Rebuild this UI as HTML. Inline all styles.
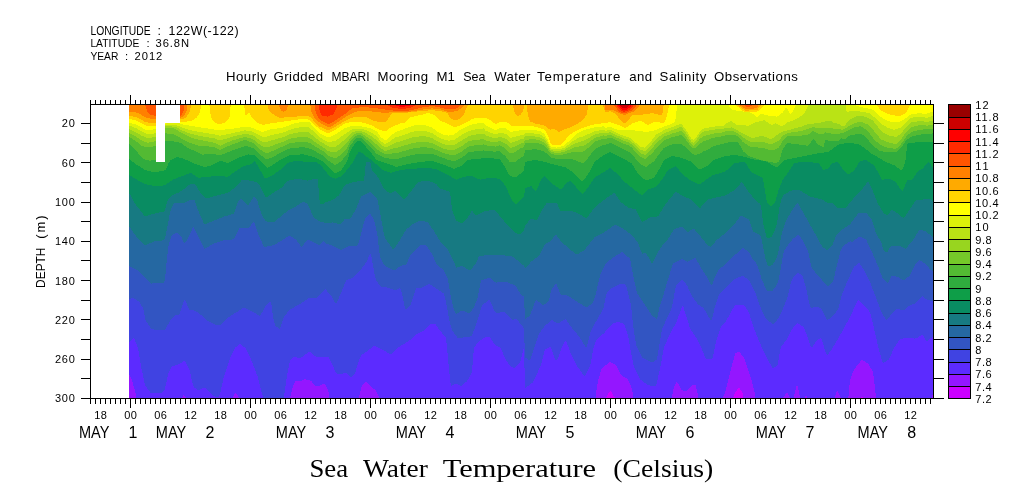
<!DOCTYPE html><html><head><meta charset="utf-8"><title>Sea Water Temperature</title>
<style>html,body{margin:0;padding:0;background:#fff}svg{display:block;will-change:transform;transform:translateZ(0)}text{font-family:"Liberation Sans",sans-serif;fill:#000}.t{font-family:"Liberation Serif",serif}</style></head><body>
<svg width="1009" height="504" viewBox="0 0 1009 504">
<rect width="1009" height="504" fill="#fff"/>
<defs><clipPath id="cp"><rect x="129" y="105" width="805" height="293"/></clipPath></defs>
<g clip-path="url(#cp)" shape-rendering="crispEdges">
<rect x="129" y="105" width="805" height="293" fill="#990000"/>
<rect x="129" y="105" width="805" height="293" fill="#cc0000"/>
<path fill="#ff0000" d="M129,402 L129,100 L619,100 L620,105.1 L623,108.3 L627,107.8 L628,107 L629,105 L630,100 L934,100 L934,402Z"/>
<path fill="#ff2a00" d="M129,402 L129,100 L392,100 L393,104.5 L401,107.1 L409,106 L411,104.6 L412,100 L617,100 L618,104.9 L621,108.7 L622,109.6 L626,110 L630,107.5 L631,106.2 L632,100 L934,100 L934,402Z"/>
<path fill="#ff5500" d="M129,402 L129,100 L318,100 L320,112.7 L322,115.5 L323,116.1 L328,116.6 L333,114.3 L334,112.8 L336,109.4 L337,106.1 L338,100 L385,100 L386,104.6 L392,107.6 L401,108.9 L409,108.3 L415,105.4 L416,100 L615,100 L616,104.6 L620,110.1 L621,110.9 L624,111.7 L625,111.7 L631,109 L634,104.5 L635,100 L934,100 L934,402Z"/>
<path fill="#ff8000" d="M129,402 L129,100 L144,100 L147,111.2 L150,114.3 L151,115 L157,116.1 L180,116.1 L181,115.3 L182,114.1 L184,109.9 L185,100 L314,100 L315,108.8 L316,113.4 L318,117.4 L319,119.2 L328,124.2 L329,124.1 L333,122.1 L346,113.2 L352,108.4 L353,108.2 L364,107 L377,108.3 L389,110.1 L401,111.3 L412,110.2 L421,107.7 L432,106 L439,107.2 L448,109.4 L449,109.5 L455,109 L456,108.6 L460,106.1 L461,104.9 L462,100 L613,100 L614,105.1 L618,110.4 L619,111.4 L624,113.7 L632,110.5 L636,106 L637,104.5 L638,100 L742,100 L743,104.4 L747,107.3 L748,107.5 L752,105.5 L753,100 L934,100 L934,402Z"/>
<path fill="#ffaa00" d="M129,402 L129,111.9 L136,112.4 L140,113.9 L145,117.1 L151,118.8 L157,119 L180,117.9 L184,115.9 L186,112.3 L187,109.7 L188,100 L278,100 L279,105.9 L280,108.4 L281,110.3 L283,111.5 L284,111.7 L286,110.5 L287,109 L288,105.7 L289,100 L310,100 L311,111 L312,113.5 L315,118.6 L321,123.7 L329,127.2 L330,127.1 L335,124.1 L350,114.2 L357,111.3 L365,110.7 L386,113 L391,112 L401,112.5 L412,111.4 L422,109.6 L432,108.4 L441,109.5 L448,111.8 L456,111.4 L457,111.1 L462,107.6 L463,106.5 L464,104.9 L465,100 L604,100 L605,110.1 L611,109.5 L616,111.4 L620,113.4 L624,114.8 L625,114.9 L631,112.4 L634,111.4 L635,110.5 L638,107.5 L639,105.5 L640,100 L738,100 L739,104.8 L746,109.3 L747,109.5 L756,108.3 L759,104.9 L760,100 L934,100 L934,402Z"/>
<path fill="#ffd400" d="M129,402 L129,116.1 L136,116.8 L140,118.8 L145,121.9 L146,122.2 L151,123.2 L156,122.6 L180,119.6 L185,118.1 L186,117.4 L189,113.2 L190,111.1 L191,104.7 L192,100 L267,100 L268,107.8 L269,110.9 L275,115.6 L279,117.6 L280,117.8 L302,116.1 L310,116.6 L311,117.4 L314,121.4 L319,126.3 L328,130.2 L329,130 L335,127 L344,121.3 L351,117.8 L358,116.7 L365,116.7 L372,120.2 L379,122 L386,121.5 L387,120.6 L392,113.1 L401,113.3 L422,111 L432,110.2 L441,111.3 L447,112.9 L448,113.8 L449,116.5 L450,118.1 L454,120.3 L455,120.3 L460,119.1 L463,115.4 L464,113.8 L466,108.8 L468,105.2 L469,100 L512,100 L513,104.4 L514,110.8 L515,113.2 L517,116.2 L518,116.1 L520,115.2 L521,114.4 L523,110.8 L524,106.8 L525,100 L526,100 L527,110.2 L529,118.9 L530,121.6 L536,123.7 L544,125.5 L545,126 L550,129.7 L554,128.6 L559,132 L564,129.6 L571,127.2 L577,124.2 L578,123.7 L584,118.7 L587,113.7 L589,100 L602,100 L603,104.7 L605,111.9 L611,111.3 L616,113.9 L619,118.6 L620,119.7 L624,123.2 L625,123.5 L629,119.5 L632,114.9 L641,114.8 L652,113.2 L653,113.2 L661,115.4 L663,112.1 L664,100 L736,100 L737,104.8 L745,110.5 L746,110.7 L757,110.1 L762,104.8 L763,100 L934,100 L934,402Z"/>
<path fill="#ffff00" d="M129,402 L129,119 L136,120.4 L140,122.4 L145,125.4 L151,126.4 L156,125.6 L159,122.7 L160,122.1 L184,122 L191,120.9 L192,120.6 L196,118.1 L197,117 L200,112.8 L202,100 L209,100 L210,112.7 L212,119.2 L215,122.7 L216,123.3 L220,124.3 L225,122.6 L229,118 L230,115.1 L231,100 L244,100 L245,115.5 L247,114.5 L249,112.7 L250,113.9 L252,117.6 L257,122.7 L263,125 L271,123.3 L301,119.1 L309,119.6 L320,129.8 L328,133.2 L329,133 L335,130 L344,123.8 L352,121.5 L353,121.5 L359,122 L365,123.2 L372,125.5 L379,129.6 L385,131.5 L386,131 L390,128 L395,125.5 L401,123.2 L405,122.7 L406,121.9 L409,117.9 L415,116.1 L422,114.9 L427,113.1 L432,113.9 L436,116.4 L441,121.2 L448,123.7 L454,127.2 L455,127.2 L460,125.7 L466,122.7 L472,119.1 L477,117.9 L484,118.4 L485,117.9 L490,119.8 L495,123.8 L496,124.2 L500,121.7 L501,121.5 L506,122 L507,122.4 L512,125.9 L513,126.2 L521,126.2 L530,125.6 L531,125.8 L537,127.3 L544,129.6 L545,130.6 L548,135.6 L550,141.9 L551,143.5 L552,144.6 L561,144.6 L565,140.2 L568,136.2 L569,135.3 L575,131.3 L583,127.8 L590,125.5 L597,123.8 L605,123.2 L610,122.1 L617,124.4 L625,127.9 L626,127.5 L632,123.5 L640,121 L641,121 L648,124.9 L653,122.5 L657,121.5 L658,121.7 L663,123.7 L664,122.5 L666,118.5 L667,115.1 L668,111.1 L670,100 L734,100 L735,104.6 L744,111.9 L745,111.9 L757,111.9 L764,105.6 L765,100 L876,100 L877,105.4 L881,110.7 L889,114.2 L899,116.3 L906,113 L910,104.6 L911,100 L934,100 L934,402Z"/>
<path fill="#ddf10a" d="M129,402 L129,122.6 L136,124.5 L140,126.5 L145,129.6 L150,130.3 L151,130.2 L156,128.6 L164,124.8 L167,122.9 L178,122.9 L183,124.5 L213,129.4 L220,130 L232,128.8 L245,126.8 L250,127.3 L251,127.4 L263,132.1 L269,129.7 L284,127.4 L293,123.7 L301,122 L309,122 L310,122.8 L314,127.3 L320,133.3 L328,137.3 L329,137.2 L335,134.7 L344,128.5 L352,125.6 L353,125.7 L365,126.8 L371,128.6 L377,131.7 L380,136.2 L381,137.3 L385,140.3 L386,139.9 L390,136.9 L395,132.1 L401,130.2 L413,125.6 L419,125 L425,125.2 L432,127.6 L436,130.6 L442,134.3 L448,135.6 L454,134.6 L461,129.4 L466,126.9 L472,124.5 L478,123.2 L484,122.7 L485,125 L495,130 L496,130.2 L500,128.2 L501,128 L506,128.5 L507,129.1 L510,131.6 L511,132.1 L516,130.9 L525,129.8 L533,129.8 L540,131.1 L544,133.6 L545,134.8 L548,140.3 L550,145.2 L551,146.5 L556,147.5 L557,147.5 L563,146 L564,145.5 L568,142 L574,136 L580,131.7 L587,129.3 L594,127.5 L604,126.3 L605,128 L610,126.9 L617,129.5 L622,130.2 L623,130.3 L629,129.8 L646,131.9 L653,131 L658,128.9 L671,124.1 L675,121.6 L676,116.9 L677,104.7 L678,100 L727,100 L728,104.9 L732,109.4 L739,111.2 L743,111.5 L744,111.9 L749,112 L755,115.2 L757,117.7 L758,116.9 L760,114.5 L761,113.8 L770,116 L777,116.6 L778,116.2 L783,112.2 L786,107.6 L787,108.3 L790,113.5 L791,113.6 L794,109.6 L796,105.2 L797,100 L852,100 L853,104.5 L861,107.2 L872,109.4 L873,109.9 L878,114.7 L884,119.2 L885,119.8 L892,122 L899,121.9 L905,118.9 L911,114.2 L920,113.1 L926,114.2 L931,111.9 L934,111.3 L934,402Z"/>
<path fill="#bae315" d="M129,402 L129,125.6 L136,128.1 L142,131.7 L147,133.9 L148,134.1 L151,133.9 L157,133 L158,131.6 L165,125.5 L167,124.6 L175,125 L178,125.7 L182,127.6 L190,130 L197,131.5 L215,134.5 L220,135.8 L245,130.4 L246,130.5 L251,131.3 L254,132.5 L263,137.2 L267,136.5 L269,135.7 L284,132.3 L293,128.7 L301,127.2 L309,127.4 L310,128.1 L320,137.6 L328,142 L329,142.1 L335,141 L336,140.4 L341,136.9 L344,134.5 L347,132.9 L350,130.4 L352,129.3 L356,128.5 L359,128.6 L361,128.7 L365,129.8 L371,132.5 L377,136.2 L380,140.2 L381,141.2 L385,143.9 L386,143.7 L390,141.4 L395,137.6 L401,135.9 L413,131.6 L419,130.9 L425,131 L432,133 L436,135.7 L442,139.1 L448,140.6 L449,140.6 L454,140.1 L460,135.8 L466,132.5 L468,131.5 L472,130.1 L478,128.9 L484,128.4 L485,130.3 L495,134.4 L496,134.5 L500,132.8 L501,132.8 L506,134 L510,137.4 L511,137.7 L524,134.5 L525,133.5 L533,133.3 L540,134.5 L544,136.8 L545,137.9 L548,142.9 L550,147.3 L551,148.5 L556,149.6 L563,148.3 L564,147.9 L568,145.1 L574,140.3 L580,137.2 L583,136.4 L594,131.6 L604,129.6 L605,131 L609,129.9 L611,130 L623,135.7 L629,137.1 L641,147.1 L645,147.6 L646,147 L652,140 L656,134.8 L657,134.1 L665,129.6 L681,123.9 L682,124.8 L686,129.8 L691,138.3 L693,139.9 L694,140.1 L697,136.3 L700,131.3 L701,130.4 L704,128.5 L712,126.8 L724,125.7 L725,123.8 L731,120.9 L737,125 L748,125.6 L749,125.5 L755,122.6 L764,120.3 L765,120.7 L771,124.7 L772,124.8 L776,123.3 L782,126.7 L787,122.6 L796,119.2 L803,114.7 L804,113.5 L808,106.5 L809,100 L845,100 L846,109.2 L847,111.8 L855,110.7 L870,113.1 L881,123.8 L887,127.4 L894,129.7 L901,127.4 L910,118.6 L911,117.8 L920,116.7 L927,117.8 L934,115.5 L934,402Z"/>
<path fill="#98d51f" d="M129,402 L129,129.2 L136,132.3 L142,135.8 L147,137.9 L148,138.1 L156,136.8 L157,136.2 L165,126.5 L167,126.1 L175,126.7 L178,128.1 L182,130.4 L190,133.5 L197,135.4 L215,138.5 L220,140.6 L232,136.8 L245,133.7 L251,134.9 L254,136.1 L260,140.3 L263,142 L266,142.1 L267,142 L269,141.2 L284,136.8 L290,134.2 L293,133.4 L301,132.1 L304,132.1 L309,132.5 L320,141.5 L324,143.7 L328,146.4 L330,146.8 L335,146.8 L336,146.3 L341,142.9 L344,140.1 L347,137.9 L350,134.3 L352,132.6 L357,130.7 L361,131 L365,132.6 L371,136.1 L377,140.5 L381,144.8 L385,147.4 L386,147.2 L390,145.5 L395,142.7 L397,142.4 L401,141.2 L412,137.4 L419,136.5 L425,136.4 L431,137.7 L432,138 L437,141 L442,143.6 L448,145.2 L449,145.3 L454,145.2 L460,141.3 L462,140.3 L468,136.6 L472,135.3 L478,134.2 L484,133.7 L485,135.3 L490,137 L495,138.4 L496,138.5 L500,136.9 L501,137 L506,138.9 L510,142.4 L511,142.7 L515,141.7 L520,139.5 L524,138.4 L525,136.5 L533,136.2 L540,137.4 L544,139.5 L545,140.5 L548,145 L550,149.1 L551,150.1 L556,151.2 L563,150.3 L564,149.9 L574,143.8 L580,141.7 L583,141.2 L595,134.5 L604,132.4 L605,133.5 L610,132.2 L611,132.4 L613,133.3 L623,138.2 L629,139.7 L633,142.9 L640,149.5 L641,150.2 L645,151 L646,150.6 L652,144.1 L656,139 L662,134.6 L665,132.9 L681,126.9 L682,127.8 L686,132.8 L691,141.3 L693,142.9 L694,143.1 L697,139.3 L700,134.3 L701,133.4 L704,131.5 L712,129.8 L724,128.7 L725,128 L732,127.4 L741,132.4 L752,137.9 L753,137.9 L762,135.8 L771,139.1 L772,138.8 L778,134.2 L784,131.2 L801,126.8 L808,123.9 L818,123.2 L825,121.4 L832,121.4 L833,122.8 L839,123.8 L841,125.6 L845,125.6 L846,123.5 L847,122.2 L852,118.2 L858,115.6 L859,115.6 L865,116.6 L872,119.9 L873,120.7 L882,132 L889,135.6 L896,136.8 L897,136.5 L901,133.5 L906,127.3 L911,122.6 L920,120.9 L927,122 L934,120.2 L934,402Z"/>
<path fill="#75c829" d="M129,402 L129,132.7 L136,136.5 L142,140.6 L147,142.6 L148,142.8 L156,141.1 L165,127.6 L166,127.5 L175,128.6 L182,133.2 L190,137.1 L197,139.4 L215,142.8 L216,143.2 L220,145.7 L221,145.5 L226,143 L232,140.5 L245,136.9 L246,137 L247,137.6 L251,138.5 L254,139.8 L260,144.8 L263,146.8 L267,147.6 L284,141.4 L290,138.7 L293,138 L301,137 L304,137 L309,137.6 L320,145.5 L324,147.8 L328,150.9 L330,151.6 L335,152.6 L341,148.8 L347,143 L350,138.1 L351,137 L354,134.6 L357,132.9 L361,133.2 L365,135.5 L371,139.7 L377,144.8 L381,148.5 L385,150.8 L386,150.7 L390,149.7 L394,148.2 L397,147.7 L400,146.9 L413,142.8 L419,142.1 L424,141.8 L432,142.9 L442,148.1 L448,149.8 L454,150.3 L462,145.9 L468,141.6 L472,140.5 L476,139.9 L484,139.1 L485,140.3 L490,141.6 L495,142.4 L496,142.4 L499,141.2 L500,141.1 L506,143.8 L509,146.8 L510,147.6 L511,147.8 L515,146.7 L520,143.9 L524,142.5 L525,139.7 L533,139.3 L535,139.4 L540,140.4 L544,142.3 L545,143.2 L548,147.3 L550,150.9 L551,151.9 L556,153 L557,153 L563,152.3 L564,152.1 L574,147.5 L580,146.4 L582,146.5 L583,146.3 L589,142.4 L594,138.4 L595,137.9 L604,135.2 L605,136.2 L610,134.7 L611,134.9 L613,135.8 L623,140.7 L629,142.5 L632,144.8 L640,152.8 L641,153.5 L645,154.7 L646,154.4 L652,148.5 L657,142.5 L664,136.7 L672,133.6 L681,130.8 L682,131.6 L686,136.2 L691,143.9 L693,145.5 L694,145.8 L697,142.9 L700,138.8 L704,136.1 L713,133.6 L724,132.2 L725,131.5 L732,130.8 L738,133.3 L743,137.6 L749,141 L752,142.4 L753,142.5 L762,141.5 L771,144.5 L772,144.3 L779,140.3 L783,135.7 L787,133.2 L801,131 L808,129 L813,127.1 L819,128.1 L825,127.7 L832,128.2 L833,128.5 L843,129.7 L849,126.1 L856,122.6 L862,122.1 L869,125 L881,139.3 L889,142.7 L896,144 L897,143.5 L901,139.5 L906,132.1 L911,127.3 L920,125.1 L927,125.6 L934,124.4 L934,402Z"/>
<path fill="#53ba33" d="M129,402 L129,136.9 L136,141.3 L142,145.9 L147,147.4 L148,147.5 L156,145.9 L165,133.5 L166,133.4 L172,133.9 L173,134.1 L178,136.6 L185,140.7 L192,143.6 L199,145.8 L208,146.4 L215,147.5 L220,149.9 L221,149.6 L226,147.1 L232,144.7 L245,139.8 L246,139.8 L247,141.2 L248,141.2 L251,142.2 L254,143.5 L260,149.3 L262,150.8 L263,151.5 L267,153.2 L273,150.8 L290,143.2 L293,142.7 L301,141.8 L304,141.8 L309,142.6 L310,143.1 L324,151.8 L328,155.3 L330,156.4 L335,158.5 L341,154.8 L347,148.1 L350,141.9 L351,140.6 L354,137.4 L357,135.2 L361,135.4 L365,138.3 L371,143.4 L376,148.4 L381,152.1 L385,154.2 L390,153.9 L394,153.1 L397,153 L413,148.5 L420,147.5 L425,147.3 L432,147.9 L442,152.5 L448,154.4 L454,155.5 L462,151.4 L468,146.7 L472,145.8 L476,145.2 L484,144.4 L485,145.2 L490,146.2 L495,146.5 L496,146.5 L499,145.4 L500,145.3 L506,149 L509,152.3 L510,153.1 L511,153.2 L515,152.1 L520,148.7 L524,147 L525,143.3 L533,142.6 L535,142.7 L540,143.6 L544,145.4 L545,146.2 L548,149.8 L550,152.9 L551,153.8 L556,154.9 L563,154.6 L574,151.6 L580,151.7 L582,152.1 L583,151.8 L588,148.1 L594,142.3 L595,141.7 L603,138.7 L604,138.4 L605,139.1 L610,137.5 L612,138.1 L623,143.5 L629,145.6 L632,147.8 L638,154.6 L640,156.4 L641,157.2 L645,158.7 L646,158.6 L653,152.3 L657,147.3 L664,140.4 L672,137.2 L681,135.1 L682,135.8 L686,139.9 L691,146.7 L693,148.3 L694,148.7 L697,146.7 L701,142.9 L704,141.1 L707,140.2 L712,138.2 L714,137.6 L724,136 L725,135.3 L732,134.5 L738,136.1 L743,142.1 L749,146 L752,147.2 L762,147.7 L771,150.4 L772,150.3 L775,149.4 L779,147.5 L782,141.6 L783,140.2 L787,136.5 L801,135.6 L808,134.6 L813,131 L819,133.8 L824,134.5 L825,132.3 L828,133.1 L837,134.4 L845,132.2 L854,127.3 L860,126.3 L861,126.4 L868,131.2 L874,139.4 L881,145.3 L889,148.1 L896,148.8 L897,148.2 L901,144.2 L906,136.9 L911,132.1 L920,129.8 L934,128.6 L934,402Z"/>
<path fill="#30ac3e" d="M129,402 L129,144 L134,148.3 L140,155.4 L145,159.9 L150,160.7 L156,159.6 L165,140.7 L166,140.5 L173,141.2 L181,142.9 L187,147.7 L194,150.6 L202,154.6 L203,154.7 L211,153.6 L220,155.3 L235,149.5 L241,147.4 L245,146.3 L248,146.5 L254,148.3 L260,154.4 L262,156.1 L267,159.6 L273,156.9 L282,152 L290,148.3 L301,147.3 L304,147.3 L310,148.7 L314,150.6 L321,154.5 L324,156.4 L329,161.1 L335,165.1 L341,161.5 L346,155.3 L347,153.9 L350,146.2 L351,144.6 L354,140.7 L357,137.8 L361,137.9 L365,141.5 L371,147.5 L376,153.2 L380,155.7 L385,158 L390,158.6 L397,159 L408,155.9 L413,154.8 L421,153.7 L425,153.5 L432,153.6 L442,157.6 L448,159.7 L454,161.3 L462,157.7 L468,152.5 L476,151.2 L484,150.4 L485,150.9 L490,151.4 L496,151.6 L499,151 L500,151.2 L506,156.9 L509,161.2 L510,162.1 L511,162.2 L515,162 L516,161.5 L520,158.3 L524,156 L525,150.3 L535,149.2 L540,150.2 L544,151.6 L545,152.2 L548,154.7 L550,156.9 L551,157.6 L557,158.9 L563,159.1 L565,159 L573,159.5 L580,162.1 L582,163.1 L583,163 L588,158.1 L594,150.1 L595,149.2 L603,145.1 L604,144.8 L605,145 L610,143.1 L611,143.2 L623,149.1 L629,151.8 L632,153.9 L638,161.8 L639,162.8 L641,164.4 L645,166.7 L646,167 L654,161.3 L656,158.3 L664,147.8 L672,144.3 L681,143.7 L686,147.4 L690,151.5 L693,154 L694,154.6 L696,154.6 L699,154.1 L704,151.2 L708,149.6 L712,147 L714,146 L724,143.7 L725,143.1 L728,142.4 L732,141.9 L738,141.7 L743,151.3 L749,156 L761,160.1 L775,163 L779,161.9 L782,151.5 L783,149 L787,142.9 L808,145.8 L809,144.8 L813,138.8 L819,145.2 L823,147.2 L824,146.3 L825,139.3 L827,140.3 L828,140.5 L834,140.5 L839,141 L840,139.3 L841,138.2 L845,139.3 L849,135.7 L860,133.5 L861,133.5 L866,137.5 L873,145.6 L880,151.2 L889,152.3 L896,152.4 L897,151.8 L901,147.8 L906,140.4 L911,136.8 L920,134.6 L934,133.3 L934,402Z"/>
<path fill="#0e9e48" d="M129,402 L129,159 L137,164.9 L145,169.9 L153,172.2 L161,171.3 L165,170.1 L166,169.1 L169,162.4 L170,160.7 L176,157.3 L177,157 L184,158.8 L193,163.1 L204,166.7 L205,166.8 L210,165.9 L220,161 L221,161.1 L228,162.9 L238,158 L248,154.4 L253,154.9 L254,155 L267,167.8 L273,164.8 L282,158.8 L289,155.3 L290,154.9 L303,154.4 L304,154.5 L313,156.8 L321,160.3 L324,162.4 L330,168.9 L335,173.7 L341,170.3 L347,161.4 L350,151.8 L354,144.9 L357,141.1 L360,141.1 L361,141.2 L371,152.8 L376,159.4 L377,160.1 L396,166.7 L397,166.7 L408,164 L420,161.9 L432,160.9 L444,164.9 L454,168.8 L462,165.8 L468,159.9 L476,158.9 L488,158 L499,158.9 L500,159.5 L505,167 L509,174.7 L510,176 L515,177.6 L516,177.3 L524,170.7 L525,161.9 L535,159.9 L545,162 L555,164.9 L565,167.1 L573,172.2 L582,181.2 L583,181.1 L588,174.5 L594,162.8 L595,161.5 L602,156.2 L610,152.1 L611,152.3 L624,158.8 L632,163.8 L638,173.7 L646,180.7 L654,177.7 L660,167.7 L664,159.9 L672,156 L682,158 L691,161.6 L692,162.2 L699,169.2 L700,169.6 L707,166.1 L708,165.4 L713,160.4 L714,159.7 L725,156 L735,155 L745,157 L755,159.9 L765,161 L776,167.1 L777,167.1 L784,160.5 L785,159.8 L820,153 L828,152 L839,144.3 L840,144 L849,142.9 L858,144 L859,144.5 L865,148.5 L873,154.9 L876,156 L886,162 L894,165.1 L901,170.3 L902,170.1 L905,163.3 L906,157.3 L907,144.7 L908,142.8 L920,142.3 L934,142.3 L934,402Z"/>
<path fill="#098c62" d="M129,402 L129,174.8 L137,179.8 L145,184.2 L155,186.1 L164,185.4 L165,185.1 L173,179.6 L190,173 L191,173.1 L198,177.5 L199,177.7 L218,175.8 L228,176.8 L236,170.9 L244,165.9 L252,163.9 L255,161 L265,178.7 L272,175.7 L282,168.6 L288,162.8 L296,160.9 L307,161.9 L315,161.5 L316,161.9 L321,165.6 L322,166.6 L330,176.8 L335,178.7 L341,176.6 L349,167.6 L354,160.4 L357,154.1 L359,151.9 L362,152.7 L363,153.3 L366,156.2 L373,161.3 L382,169.4 L383,170 L390,172.6 L391,172.7 L401,169.8 L425,167.9 L436,168.8 L448,174.8 L456,179.7 L464,176.8 L471,175.9 L472,175.9 L480,179.7 L490,177.8 L499,178.7 L500,179.2 L505,185.1 L506,186.8 L511,198.4 L512,200.1 L516,204.1 L517,204 L524,196.7 L525,188.7 L531,185.8 L535,190.6 L536,191.5 L541,179.6 L544,176.6 L545,176 L551,182.9 L560,189.2 L561,189.3 L567,182.6 L570,181.1 L571,181.2 L582,194 L583,194 L588,187.4 L594,178.4 L595,177.4 L604,172 L610,168.1 L611,168.5 L618,174.6 L624,181.5 L642,195.6 L648,189.7 L656,186.7 L662,179.6 L668,169.8 L675,166.3 L676,166.1 L682,174 L689,179.3 L699,184.4 L700,184.4 L706,179.5 L713,175.1 L714,174.7 L725,171.8 L735,162.9 L745,162 L751,171.9 L762,177.4 L763,179.1 L766,197.1 L767,201.9 L770,205.7 L771,206.3 L774,204.1 L775,202.5 L779,188.8 L783,179.3 L789,171.2 L794,163.7 L795,162.8 L805,161.9 L818,162.9 L819,163.8 L823,169.4 L824,169.7 L828,168.9 L832,163.2 L833,162.8 L838,161.9 L843,169.6 L848,174.7 L854,170.9 L860,160.9 L866,160 L874,165.1 L882,179.7 L890,178.9 L895,181.4 L896,182.2 L900,189 L902,191 L903,190.8 L906,183 L907,181 L908,179.9 L911,180.6 L912,180.1 L917,172.6 L918,171.5 L923,168.2 L928,162.4 L929,162.6 L933,167.4 L934,167.9 L934,402Z"/>
<path fill="#177a82" d="M129,402 L129,192.7 L135,203.7 L145,216.4 L155,213.4 L164,211.6 L165,210.2 L167,202.2 L168,199.3 L172,195.5 L179,192.4 L185,188.3 L190,184.1 L191,183.8 L195,184.6 L196,185.6 L200,192 L201,193.3 L206,198.3 L207,198.4 L216,195.7 L228,192.7 L236,186.8 L242,179.8 L252,180.8 L258,182.8 L262,189.9 L266,197.5 L282,187.4 L287,181.6 L288,180.7 L297,178.9 L298,178.8 L307,180.6 L308,180.6 L315,178.9 L316,178.9 L318,179.6 L319,196.2 L320,203.6 L324,203.6 L325,202.6 L333,199.6 L339,195.4 L345,184.7 L355,181.7 L364,180.8 L366,161.9 L370,161.9 L371,164.8 L372,170.3 L378,177.1 L379,178.6 L384,188.6 L385,190 L390,193.3 L391,193.3 L395,190.9 L396,191.2 L404,199.2 L405,198.8 L412,190.1 L418,182.1 L419,181.7 L428,180.8 L429,181.1 L436,183.7 L440,188.6 L450,191.7 L452,209.6 L456,220.5 L462,223.3 L468,217.2 L471,212 L472,210.7 L475,214.5 L476,215.4 L484,211.5 L493,209.7 L494,209.9 L499,214.9 L508,225.9 L515,232.9 L516,233.4 L520,234.2 L521,233.7 L524,230.5 L525,225.4 L531,218.5 L536,220.1 L537,220.2 L543,208.3 L547,202.6 L556,202.6 L557,203.2 L560,209.9 L561,211.5 L570,210.6 L571,210.7 L579,213.8 L586,218.1 L587,217.8 L594,208.2 L595,207.1 L604,199.9 L614,192.9 L615,193.7 L620,201.2 L621,202.2 L628,207.4 L636,209.5 L642,222.3 L650,217.5 L658,216.4 L666,203.4 L675,192.6 L676,191.8 L684,196.7 L691,199.4 L692,200 L699,207.9 L700,208.1 L707,200.2 L708,199.5 L716,197.5 L725,195.6 L735,189.7 L742,181.8 L747,189.8 L754,198.6 L755,199.7 L760,203.9 L761,206.3 L763,222.4 L766,235.1 L767,238.2 L771,237.4 L772,236.6 L776,227 L777,223.2 L780,204.4 L782,197.7 L783,195.4 L790,191 L791,190.6 L798,189.7 L799,190 L810,196.4 L822,199.5 L828,203.4 L829,203.4 L832,202.6 L833,203.4 L838,208.4 L839,208.4 L846,207.6 L854,197.7 L862,189.7 L868,180.9 L872,188.9 L878,203.8 L884,213.6 L887,215.1 L888,215.1 L891,210.6 L892,209.7 L898,213.7 L903,217.9 L904,217.9 L915,201.4 L916,200.5 L929,198.7 L930,199 L933,201.3 L934,201.6 L934,402Z"/>
<path fill="#2568a2" d="M129,402 L129,226.4 L137,237.4 L145,245.2 L155,241.2 L164,240.3 L165,238.7 L170,212.9 L171,208.9 L174,203.6 L175,202.6 L182,203.5 L183,203.3 L190,199.8 L191,199.6 L194,199.6 L195,201.3 L199,212.8 L204,223.6 L205,224.2 L224,216.6 L234,213.5 L238,201.9 L241,198.7 L248,205.5 L254,196.7 L257,199.8 L262,215.6 L266,221.4 L273,222.3 L274,222.3 L288,210.4 L296,206.3 L303,201.9 L304,201.8 L307,203.3 L308,204.6 L313,216.3 L314,217.8 L319,221.1 L320,221.5 L324,222.2 L325,223.4 L333,222.4 L340,224.2 L341,224.2 L345,218.5 L350,218.5 L351,218.1 L357,206.8 L360,198.6 L361,196.5 L370,192 L371,192.1 L377,198.9 L378,201.8 L384,234.4 L385,238 L393,249.3 L394,249.1 L400,239.9 L406,229.9 L407,228.8 L412,224.7 L420,220.6 L421,220.6 L428,222.4 L434,231.2 L440,241.1 L448,249.9 L454,261.9 L456,267.8 L462,265.9 L469,270.2 L470,270.6 L475,264.7 L476,263.3 L479,255.9 L493,254.9 L511,255.8 L512,256.2 L519,261.5 L524,265.9 L525,268.8 L531,261.8 L539,255.7 L545,243.9 L551,241 L555,235.4 L556,234.7 L561,241.5 L576,254.4 L577,254.6 L584,250.2 L585,249.3 L594,237.9 L595,237 L604,232.5 L615,224.6 L616,224.8 L624,229.3 L632,235.2 L638,243.1 L642,253.7 L646,252.9 L652,263.8 L657,253.8 L661,247.4 L662,245.8 L668,239 L674,229.3 L681,226.7 L682,226.6 L687,231.6 L688,232.1 L693,228.8 L694,228.8 L700,235.8 L707,244.6 L708,245.5 L711,247 L712,245.4 L717,239.8 L725,233.3 L735,223.4 L741,215.5 L748,219 L749,219.8 L753,231.4 L760,234.9 L761,236.4 L765,256.7 L767,264.1 L768,266.7 L772,265.1 L773,264.3 L777,257.1 L778,253.9 L782,232.3 L786,221.1 L787,218.8 L792,210.4 L797,203.3 L798,203.5 L818,238.7 L822,246.4 L823,247.4 L827,249.8 L828,249.3 L832,246.1 L836,235.8 L837,234.5 L842,229.5 L850,224.5 L858,213.5 L865,212.6 L866,212.6 L872,219.8 L876,233.5 L881,241.9 L882,244.4 L883,250.1 L886,252.3 L887,252.5 L890,247.3 L891,246 L900,246.1 L905,248.6 L906,248.5 L913,240 L919,230.2 L920,229.5 L925,231.2 L926,231.7 L933,237 L934,237.3 L934,402Z"/>
<path fill="#3255c2" d="M129,402 L129,265.8 L137,269.9 L151,283.6 L164,282.7 L165,279 L167,257.2 L169,243 L171,237.1 L172,235.1 L176,232.7 L177,232.7 L180,234.9 L181,236.3 L184,243.1 L185,243.4 L189,236.2 L193,227.4 L194,227.6 L198,236.5 L204,248.5 L205,248.8 L214,243.4 L215,243 L224,240.3 L234,239.3 L240,227.5 L248,228.4 L254,221.5 L258,233.5 L264,247.2 L274,245.1 L284,239.1 L289,235.8 L290,235.5 L295,238.9 L296,239.8 L301,246.4 L302,246.7 L307,240 L308,239.5 L319,245 L320,244.6 L324,240.4 L325,243 L333,246 L341,249.9 L349,246 L356,246 L357,245.6 L358,244.2 L359,242.2 L364,222.2 L365,219 L369,213.9 L370,213.6 L373,217.6 L374,220.1 L377,232.9 L378,239.7 L379,250 L380,256.7 L384,264.7 L385,266 L394,270.5 L395,270.3 L400,266.1 L401,265.7 L406,264.9 L407,263.2 L410,255.7 L411,254.2 L420,245.2 L421,245 L426,245 L432,253.7 L436,263.5 L444,270.7 L448,279.6 L451,297.6 L454,309.5 L456,314.4 L462,310.5 L469,313.1 L470,313.2 L474,307 L477,299.5 L478,296.3 L480,284.9 L481,280.6 L489,277.9 L490,278 L495,282.1 L496,282.6 L505,281.7 L506,281.8 L515,285.4 L516,286.5 L521,294.8 L522,295.7 L524,296.3 L525,319.4 L530,315.3 L536,299.6 L543,305.4 L548,302 L549,300.6 L551,291.2 L555,284 L556,283.2 L560,292.8 L561,294.6 L567,295.5 L568,295.8 L577,301.8 L586,307.2 L587,307.1 L592,303.8 L593,302.1 L595,296.7 L596,293.1 L600,275.5 L601,272.6 L606,263.5 L607,262.3 L614,257.1 L622,252 L623,252.6 L630,258.7 L633,274.9 L637,293.1 L652,315.4 L656,318.6 L657,319.1 L660,305.2 L664,293.2 L668,279.2 L673,263.7 L681,259.3 L682,259 L687,261.5 L688,261.7 L695,258.2 L696,258.6 L700,266.4 L707,276.9 L711,285.5 L712,285.2 L715,276.7 L718,270.7 L719,269.3 L725,264.8 L735,254.9 L743,248 L749,252.1 L753,260 L756,263 L757,264.4 L762,280.2 L766,289 L767,290.6 L771,291.4 L772,291.2 L777,284.5 L778,282.1 L780,272.7 L783,255.6 L784,251.3 L789,243.5 L793,238.9 L798,234.7 L799,235 L803,240.6 L808,251 L809,255 L811,265.7 L812,268.5 L824,282.3 L828,286.4 L829,285.9 L833,281.9 L840,252.5 L843,246.2 L850,241.3 L852,242 L860,236.3 L866,239.4 L872,252.1 L878,266.2 L883,278.9 L887,282.9 L888,283.2 L891,277.2 L892,275.8 L898,276.9 L903,280.2 L904,280.4 L909,276.2 L910,274.9 L915,264.9 L916,263.4 L919,260.4 L920,260.2 L925,263.5 L930,269.2 L933,271.5 L934,271.7 L934,402Z"/>
<path fill="#4043e2" d="M129,402 L129,299.5 L133,297.6 L139,301.7 L143,308.1 L144,311 L145,319.6 L151,328.4 L157,330.3 L164,330.3 L165,329.7 L170,320.9 L174,316.1 L175,315.3 L179,314.5 L180,313 L184,300.2 L185,299.7 L189,309.3 L190,310.4 L194,310.4 L195,310.8 L200,314.1 L208,321.1 L216,325.2 L217,325.3 L220,325.3 L228,317.6 L244,307.5 L252,311.4 L260,316.2 L266,305.3 L270,301.3 L271,301.8 L273,316.3 L275,325.5 L279,328.7 L280,328.6 L284,317 L290,309.3 L300,304.2 L309,297.9 L310,297.6 L315,298.5 L316,298.1 L322,292.9 L324,290.7 L325,288.6 L331,295.6 L336,304.3 L341,293.2 L346,280.6 L353,277.5 L361,269.4 L366,262.7 L367,261 L370,253.5 L371,254.1 L375,276.5 L376,280.2 L380,285.8 L381,286.7 L388,287.6 L395,290.4 L396,290.3 L400,287.9 L401,290 L403,298 L405,308.5 L406,309.8 L410,305.8 L411,303.4 L416,288.4 L417,287.6 L422,287.6 L429,283.7 L430,284.2 L436,288.5 L444,293.5 L447,307.3 L449,319.3 L452,330.3 L458,338.2 L471,336.3 L472,335.8 L479,315.7 L482,305.3 L489,300 L490,300.3 L494,309.9 L496,312.6 L497,313.3 L503,311.6 L504,311.9 L512,319.9 L513,320.1 L516,318.6 L517,319.1 L521,324.7 L524,328.2 L525,357.5 L530,360.4 L539,333.6 L545,325.7 L551,320.5 L552,320 L557,323.3 L558,323.6 L565,319.3 L566,319.3 L572,328.2 L579,336.4 L586,347.8 L587,346.5 L590,333.8 L591,330.8 L597,319.6 L603,309.6 L604,305.7 L606,295.4 L607,292.9 L612,287.9 L620,283.8 L626,284.6 L631,305.3 L633,324.4 L636,344.9 L637,347.4 L642,357.4 L652,362.5 L656,360.1 L657,359.2 L662,329.5 L668,315.6 L671,309.6 L672,307 L676,285.4 L681,280.4 L682,279.9 L686,283.9 L687,285.3 L692,296 L697,303.1 L698,304.2 L703,307.6 L704,308.7 L711,320.9 L712,319.5 L715,306.3 L718,297 L719,295 L725,288.6 L735,278.7 L743,275.8 L749,279.9 L755,292 L760,306 L765,317.6 L772,323.7 L773,324 L777,320 L778,318.7 L783,308.5 L787,298.9 L788,295.6 L791,282.1 L792,279.2 L797,273.3 L798,273 L802,275.4 L803,277.6 L806,288.1 L810,306.6 L811,308.3 L816,306.6 L817,306.7 L821,308.3 L822,309.8 L827,319.8 L828,319.8 L832,316.6 L838,309.6 L842,294.1 L848,279.9 L854,266.9 L859,262.8 L864,269.8 L870,281.9 L882,313.7 L886,319.3 L887,320.1 L892,313.2 L896,309.2 L897,308.5 L903,310.3 L904,310.1 L910,305.3 L915,303.7 L916,303 L922,296.1 L923,296.1 L926,299.1 L927,299.7 L934,301.5 L934,402Z"/>
<path fill="#5c2bff" d="M129,402 L129,342.6 L134,337.9 L138,348.2 L141,366.1 L145,385.5 L151,393.3 L160,393.3 L161,393 L164,390.8 L165,388.7 L168,374.6 L171,367.9 L172,366.4 L179,364.2 L184,360.9 L185,361.4 L189,368.6 L190,371.8 L193,385.3 L194,387.6 L198,390 L199,390 L204,387.5 L205,387.9 L212,394.9 L218,397.7 L219,396.1 L220,393.8 L224,376.3 L230,358 L235,347.9 L240,343.7 L246,348.6 L252,361.6 L258,377.6 L262,393.5 L263,396.3 L264,402 L283,402 L284,396.8 L287,375.8 L289,365.1 L290,361.1 L293,357.4 L294,356.7 L299,358.3 L300,358.3 L309,352 L310,352 L315,356.2 L316,356.5 L325,356.5 L329,357.6 L333,365.6 L336,373.4 L341,374.4 L345,372.8 L346,372.6 L350,376.6 L351,377.2 L354,375 L355,373.5 L358,362.8 L361,355.4 L367,351.3 L374,346.1 L375,345.8 L383,349.9 L390,354.3 L391,354 L397,348.3 L412,338.9 L417,334 L424,330.8 L430,324 L431,323.8 L435,323.8 L440,330.6 L446,337.7 L450,379.4 L451,386.3 L456,383.4 L461,386.2 L467,381.1 L471,374.7 L472,371.1 L474,347.4 L478,342.5 L483,338.3 L484,337.7 L489,336.8 L490,337.2 L494,343.6 L495,344.8 L500,347.3 L501,348.6 L505,358.2 L509,364.6 L510,365.8 L514,368.2 L515,367.9 L520,362 L521,359.3 L523,351.3 L524,345.9 L525,388.3 L533,382.2 L541,365 L545,349.5 L550,347 L551,347.3 L554,357 L555,359.5 L557,359.5 L558,358.7 L562,347 L565,341 L566,340.6 L571,354.3 L576,364.3 L577,366 L584,375.7 L585,375.5 L590,366.3 L591,362.3 L593,350.3 L594,346.2 L596,340.8 L597,339.2 L604,333.1 L612,324.1 L613,323.6 L618,321.9 L624,323.7 L625,326.2 L628,335.2 L631,352.7 L634,366.9 L640,379.2 L648,385.3 L655,386.2 L656,386.1 L660,369 L664,347.4 L670,333.5 L676,323.2 L682,306.8 L683,305.7 L690,328.3 L696,337.4 L700,344.6 L705,357.1 L706,358.6 L712,359.5 L713,357 L716,342 L717,338.2 L721,327 L722,325.3 L725,322.8 L735,305 L744,305.1 L749,312.3 L753,326.2 L762,348 L767,358 L772,367.2 L773,368.3 L777,365.9 L778,363.4 L780,351.4 L781,347.1 L787,338.9 L792,329.2 L797,323.4 L798,323.2 L803,326.5 L804,328.2 L807,335.7 L811,347.4 L812,347.6 L816,341.2 L817,340.3 L821,337.9 L822,340.1 L825,350.6 L826,353 L827,355 L828,354.5 L832,348.9 L839,337.2 L850,317 L858,299.6 L869,310.9 L870,312.2 L874,328.3 L878,346.1 L882,360.5 L883,363.4 L888,360 L889,359 L894,348.2 L899,340.7 L900,339.6 L906,337.7 L915,338.6 L916,338.4 L922,335 L923,335.6 L926,340.8 L927,341.2 L931,338 L933,336.1 L934,335.7 L934,402Z"/>
<path fill="#9416ff" d="M129,402 L129,374.5 L132,379.6 L136,395.3 L137,402 L181,402 L182,397.7 L183,395.4 L184,394.9 L186,397.9 L187,402 L232,402 L233,396.8 L235,392.5 L236,393.4 L240,398.6 L241,402 L289,402 L292,389.8 L293,386.5 L295,381.8 L296,380.4 L299,381.2 L300,381.2 L304,379.6 L305,379.4 L310,380.3 L311,380.9 L315,385.7 L316,386.2 L321,385.4 L322,384.8 L324,383.2 L325,384.3 L328,389.4 L329,394.1 L330,402 L358,402 L361,388.5 L362,385.1 L365,382.4 L366,382 L371,386.6 L375,389.8 L376,391.1 L379,397.5 L380,402 L595,402 L597,386.6 L598,381.2 L601,369.9 L602,368 L610,362.1 L611,362.3 L616,365.3 L621,374.9 L622,375.8 L628,379.3 L632,388.9 L633,394.4 L634,402 L671,402 L674,386.9 L676,382.9 L677,381.7 L681,388.9 L682,390.3 L686,391.1 L687,390.9 L691,386.1 L692,385.2 L695,384.5 L696,386.1 L698,395.7 L699,402 L722,402 L723,397.5 L725,393.3 L735,353.6 L739,351.6 L744,357.8 L752,381.9 L755,394.1 L756,402 L782,402 L783,398.1 L787,392.3 L790,397.7 L791,402 L793,402 L794,396.6 L797,383.7 L800,396.7 L801,402 L804,402 L805,396.9 L806,394.7 L807,397.5 L808,402 L834,402 L835,396.5 L837,390.8 L838,392 L841,398.4 L842,402 L848,402 L850,380.1 L851,377.1 L854,369.6 L862,359.5 L868,363.6 L872,370 L873,372.3 L876,396.5 L877,402 L931,402 L932,396.6 L933,392.8 L934,391.3 L934,402Z"/>
<path fill="#cc00ff" d="M129,402 L129,402 L605,402 L606,397.6 L610,390.8 L611,391.4 L615,398.2 L616,402 L732,402 L733,397.8 L735,393.3 L738,388.3 L739,387.8 L742,391.5 L743,395.2 L744,402 L859,402 L860,398.7 L862,396.2 L863,397.5 L864,402 L934,402 L934,402Z"/>
<rect x="156" y="105" width="9" height="57" fill="#fff"/><rect x="156" y="105" width="24" height="18" fill="#fff"/>
</g>
<g fill="#000" shape-rendering="crispEdges"><rect x="90" y="104" width="844" height="1"/><rect x="81" y="398" width="863" height="1"/><rect x="90" y="104" width="1" height="295"/><rect x="933" y="104" width="1" height="295"/><rect x="90" y="100" width="1" height="4"/><rect x="90" y="399" width="1" height="5"/><rect x="95" y="100" width="1" height="4"/><rect x="95" y="399" width="1" height="5"/><rect x="100" y="100" width="1" height="4"/><rect x="100" y="399" width="1" height="5"/><rect x="105" y="100" width="1" height="4"/><rect x="105" y="399" width="1" height="5"/><rect x="110" y="100" width="1" height="4"/><rect x="110" y="399" width="1" height="5"/><rect x="115" y="100" width="1" height="4"/><rect x="115" y="399" width="1" height="5"/><rect x="120" y="100" width="1" height="4"/><rect x="120" y="399" width="1" height="5"/><rect x="125" y="100" width="1" height="4"/><rect x="125" y="399" width="1" height="5"/><rect x="130" y="95" width="1" height="9"/><rect x="130" y="399" width="1" height="9"/><rect x="135" y="100" width="1" height="4"/><rect x="135" y="399" width="1" height="5"/><rect x="140" y="100" width="1" height="4"/><rect x="140" y="399" width="1" height="5"/><rect x="145" y="100" width="1" height="4"/><rect x="145" y="399" width="1" height="5"/><rect x="150" y="100" width="1" height="4"/><rect x="150" y="399" width="1" height="5"/><rect x="155" y="100" width="1" height="4"/><rect x="155" y="399" width="1" height="5"/><rect x="160" y="100" width="1" height="4"/><rect x="160" y="399" width="1" height="5"/><rect x="165" y="100" width="1" height="4"/><rect x="165" y="399" width="1" height="5"/><rect x="170" y="100" width="1" height="4"/><rect x="170" y="399" width="1" height="5"/><rect x="175" y="100" width="1" height="4"/><rect x="175" y="399" width="1" height="5"/><rect x="180" y="100" width="1" height="4"/><rect x="180" y="399" width="1" height="5"/><rect x="185" y="100" width="1" height="4"/><rect x="185" y="399" width="1" height="5"/><rect x="190" y="100" width="1" height="4"/><rect x="190" y="399" width="1" height="5"/><rect x="195" y="100" width="1" height="4"/><rect x="195" y="399" width="1" height="5"/><rect x="200" y="100" width="1" height="4"/><rect x="200" y="399" width="1" height="5"/><rect x="205" y="100" width="1" height="4"/><rect x="205" y="399" width="1" height="5"/><rect x="210" y="100" width="1" height="4"/><rect x="210" y="399" width="1" height="5"/><rect x="215" y="100" width="1" height="4"/><rect x="215" y="399" width="1" height="5"/><rect x="220" y="100" width="1" height="4"/><rect x="220" y="399" width="1" height="5"/><rect x="225" y="100" width="1" height="4"/><rect x="225" y="399" width="1" height="5"/><rect x="230" y="100" width="1" height="4"/><rect x="230" y="399" width="1" height="5"/><rect x="235" y="100" width="1" height="4"/><rect x="235" y="399" width="1" height="5"/><rect x="240" y="100" width="1" height="4"/><rect x="240" y="399" width="1" height="5"/><rect x="245" y="100" width="1" height="4"/><rect x="245" y="399" width="1" height="5"/><rect x="250" y="95" width="1" height="9"/><rect x="250" y="399" width="1" height="9"/><rect x="255" y="100" width="1" height="4"/><rect x="255" y="399" width="1" height="5"/><rect x="260" y="100" width="1" height="4"/><rect x="260" y="399" width="1" height="5"/><rect x="265" y="100" width="1" height="4"/><rect x="265" y="399" width="1" height="5"/><rect x="270" y="100" width="1" height="4"/><rect x="270" y="399" width="1" height="5"/><rect x="275" y="100" width="1" height="4"/><rect x="275" y="399" width="1" height="5"/><rect x="280" y="100" width="1" height="4"/><rect x="280" y="399" width="1" height="5"/><rect x="285" y="100" width="1" height="4"/><rect x="285" y="399" width="1" height="5"/><rect x="290" y="100" width="1" height="4"/><rect x="290" y="399" width="1" height="5"/><rect x="295" y="100" width="1" height="4"/><rect x="295" y="399" width="1" height="5"/><rect x="300" y="100" width="1" height="4"/><rect x="300" y="399" width="1" height="5"/><rect x="305" y="100" width="1" height="4"/><rect x="305" y="399" width="1" height="5"/><rect x="310" y="100" width="1" height="4"/><rect x="310" y="399" width="1" height="5"/><rect x="315" y="100" width="1" height="4"/><rect x="315" y="399" width="1" height="5"/><rect x="320" y="100" width="1" height="4"/><rect x="320" y="399" width="1" height="5"/><rect x="325" y="100" width="1" height="4"/><rect x="325" y="399" width="1" height="5"/><rect x="330" y="100" width="1" height="4"/><rect x="330" y="399" width="1" height="5"/><rect x="335" y="100" width="1" height="4"/><rect x="335" y="399" width="1" height="5"/><rect x="340" y="100" width="1" height="4"/><rect x="340" y="399" width="1" height="5"/><rect x="345" y="100" width="1" height="4"/><rect x="345" y="399" width="1" height="5"/><rect x="350" y="100" width="1" height="4"/><rect x="350" y="399" width="1" height="5"/><rect x="355" y="100" width="1" height="4"/><rect x="355" y="399" width="1" height="5"/><rect x="360" y="100" width="1" height="4"/><rect x="360" y="399" width="1" height="5"/><rect x="365" y="100" width="1" height="4"/><rect x="365" y="399" width="1" height="5"/><rect x="370" y="95" width="1" height="9"/><rect x="370" y="399" width="1" height="9"/><rect x="375" y="100" width="1" height="4"/><rect x="375" y="399" width="1" height="5"/><rect x="380" y="100" width="1" height="4"/><rect x="380" y="399" width="1" height="5"/><rect x="385" y="100" width="1" height="4"/><rect x="385" y="399" width="1" height="5"/><rect x="390" y="100" width="1" height="4"/><rect x="390" y="399" width="1" height="5"/><rect x="395" y="100" width="1" height="4"/><rect x="395" y="399" width="1" height="5"/><rect x="400" y="100" width="1" height="4"/><rect x="400" y="399" width="1" height="5"/><rect x="405" y="100" width="1" height="4"/><rect x="405" y="399" width="1" height="5"/><rect x="410" y="100" width="1" height="4"/><rect x="410" y="399" width="1" height="5"/><rect x="415" y="100" width="1" height="4"/><rect x="415" y="399" width="1" height="5"/><rect x="420" y="100" width="1" height="4"/><rect x="420" y="399" width="1" height="5"/><rect x="425" y="100" width="1" height="4"/><rect x="425" y="399" width="1" height="5"/><rect x="430" y="100" width="1" height="4"/><rect x="430" y="399" width="1" height="5"/><rect x="435" y="100" width="1" height="4"/><rect x="435" y="399" width="1" height="5"/><rect x="440" y="100" width="1" height="4"/><rect x="440" y="399" width="1" height="5"/><rect x="445" y="100" width="1" height="4"/><rect x="445" y="399" width="1" height="5"/><rect x="450" y="100" width="1" height="4"/><rect x="450" y="399" width="1" height="5"/><rect x="455" y="100" width="1" height="4"/><rect x="455" y="399" width="1" height="5"/><rect x="460" y="100" width="1" height="4"/><rect x="460" y="399" width="1" height="5"/><rect x="465" y="100" width="1" height="4"/><rect x="465" y="399" width="1" height="5"/><rect x="470" y="100" width="1" height="4"/><rect x="470" y="399" width="1" height="5"/><rect x="475" y="100" width="1" height="4"/><rect x="475" y="399" width="1" height="5"/><rect x="480" y="100" width="1" height="4"/><rect x="480" y="399" width="1" height="5"/><rect x="485" y="100" width="1" height="4"/><rect x="485" y="399" width="1" height="5"/><rect x="490" y="95" width="1" height="9"/><rect x="490" y="399" width="1" height="9"/><rect x="495" y="100" width="1" height="4"/><rect x="495" y="399" width="1" height="5"/><rect x="500" y="100" width="1" height="4"/><rect x="500" y="399" width="1" height="5"/><rect x="505" y="100" width="1" height="4"/><rect x="505" y="399" width="1" height="5"/><rect x="510" y="100" width="1" height="4"/><rect x="510" y="399" width="1" height="5"/><rect x="515" y="100" width="1" height="4"/><rect x="515" y="399" width="1" height="5"/><rect x="520" y="100" width="1" height="4"/><rect x="520" y="399" width="1" height="5"/><rect x="525" y="100" width="1" height="4"/><rect x="525" y="399" width="1" height="5"/><rect x="530" y="100" width="1" height="4"/><rect x="530" y="399" width="1" height="5"/><rect x="535" y="100" width="1" height="4"/><rect x="535" y="399" width="1" height="5"/><rect x="540" y="100" width="1" height="4"/><rect x="540" y="399" width="1" height="5"/><rect x="545" y="100" width="1" height="4"/><rect x="545" y="399" width="1" height="5"/><rect x="550" y="100" width="1" height="4"/><rect x="550" y="399" width="1" height="5"/><rect x="555" y="100" width="1" height="4"/><rect x="555" y="399" width="1" height="5"/><rect x="560" y="100" width="1" height="4"/><rect x="560" y="399" width="1" height="5"/><rect x="565" y="100" width="1" height="4"/><rect x="565" y="399" width="1" height="5"/><rect x="570" y="100" width="1" height="4"/><rect x="570" y="399" width="1" height="5"/><rect x="575" y="100" width="1" height="4"/><rect x="575" y="399" width="1" height="5"/><rect x="580" y="100" width="1" height="4"/><rect x="580" y="399" width="1" height="5"/><rect x="585" y="100" width="1" height="4"/><rect x="585" y="399" width="1" height="5"/><rect x="590" y="100" width="1" height="4"/><rect x="590" y="399" width="1" height="5"/><rect x="595" y="100" width="1" height="4"/><rect x="595" y="399" width="1" height="5"/><rect x="600" y="100" width="1" height="4"/><rect x="600" y="399" width="1" height="5"/><rect x="605" y="100" width="1" height="4"/><rect x="605" y="399" width="1" height="5"/><rect x="610" y="95" width="1" height="9"/><rect x="610" y="399" width="1" height="9"/><rect x="615" y="100" width="1" height="4"/><rect x="615" y="399" width="1" height="5"/><rect x="620" y="100" width="1" height="4"/><rect x="620" y="399" width="1" height="5"/><rect x="625" y="100" width="1" height="4"/><rect x="625" y="399" width="1" height="5"/><rect x="630" y="100" width="1" height="4"/><rect x="630" y="399" width="1" height="5"/><rect x="635" y="100" width="1" height="4"/><rect x="635" y="399" width="1" height="5"/><rect x="640" y="100" width="1" height="4"/><rect x="640" y="399" width="1" height="5"/><rect x="645" y="100" width="1" height="4"/><rect x="645" y="399" width="1" height="5"/><rect x="650" y="100" width="1" height="4"/><rect x="650" y="399" width="1" height="5"/><rect x="655" y="100" width="1" height="4"/><rect x="655" y="399" width="1" height="5"/><rect x="660" y="100" width="1" height="4"/><rect x="660" y="399" width="1" height="5"/><rect x="665" y="100" width="1" height="4"/><rect x="665" y="399" width="1" height="5"/><rect x="670" y="100" width="1" height="4"/><rect x="670" y="399" width="1" height="5"/><rect x="675" y="100" width="1" height="4"/><rect x="675" y="399" width="1" height="5"/><rect x="680" y="100" width="1" height="4"/><rect x="680" y="399" width="1" height="5"/><rect x="685" y="100" width="1" height="4"/><rect x="685" y="399" width="1" height="5"/><rect x="690" y="100" width="1" height="4"/><rect x="690" y="399" width="1" height="5"/><rect x="695" y="100" width="1" height="4"/><rect x="695" y="399" width="1" height="5"/><rect x="700" y="100" width="1" height="4"/><rect x="700" y="399" width="1" height="5"/><rect x="705" y="100" width="1" height="4"/><rect x="705" y="399" width="1" height="5"/><rect x="710" y="100" width="1" height="4"/><rect x="710" y="399" width="1" height="5"/><rect x="715" y="100" width="1" height="4"/><rect x="715" y="399" width="1" height="5"/><rect x="720" y="100" width="1" height="4"/><rect x="720" y="399" width="1" height="5"/><rect x="725" y="100" width="1" height="4"/><rect x="725" y="399" width="1" height="5"/><rect x="730" y="95" width="1" height="9"/><rect x="730" y="399" width="1" height="9"/><rect x="735" y="100" width="1" height="4"/><rect x="735" y="399" width="1" height="5"/><rect x="740" y="100" width="1" height="4"/><rect x="740" y="399" width="1" height="5"/><rect x="745" y="100" width="1" height="4"/><rect x="745" y="399" width="1" height="5"/><rect x="750" y="100" width="1" height="4"/><rect x="750" y="399" width="1" height="5"/><rect x="755" y="100" width="1" height="4"/><rect x="755" y="399" width="1" height="5"/><rect x="760" y="100" width="1" height="4"/><rect x="760" y="399" width="1" height="5"/><rect x="765" y="100" width="1" height="4"/><rect x="765" y="399" width="1" height="5"/><rect x="770" y="100" width="1" height="4"/><rect x="770" y="399" width="1" height="5"/><rect x="775" y="100" width="1" height="4"/><rect x="775" y="399" width="1" height="5"/><rect x="780" y="100" width="1" height="4"/><rect x="780" y="399" width="1" height="5"/><rect x="785" y="100" width="1" height="4"/><rect x="785" y="399" width="1" height="5"/><rect x="790" y="100" width="1" height="4"/><rect x="790" y="399" width="1" height="5"/><rect x="795" y="100" width="1" height="4"/><rect x="795" y="399" width="1" height="5"/><rect x="800" y="100" width="1" height="4"/><rect x="800" y="399" width="1" height="5"/><rect x="805" y="100" width="1" height="4"/><rect x="805" y="399" width="1" height="5"/><rect x="810" y="100" width="1" height="4"/><rect x="810" y="399" width="1" height="5"/><rect x="815" y="100" width="1" height="4"/><rect x="815" y="399" width="1" height="5"/><rect x="820" y="100" width="1" height="4"/><rect x="820" y="399" width="1" height="5"/><rect x="825" y="100" width="1" height="4"/><rect x="825" y="399" width="1" height="5"/><rect x="830" y="100" width="1" height="4"/><rect x="830" y="399" width="1" height="5"/><rect x="835" y="100" width="1" height="4"/><rect x="835" y="399" width="1" height="5"/><rect x="840" y="100" width="1" height="4"/><rect x="840" y="399" width="1" height="5"/><rect x="845" y="100" width="1" height="4"/><rect x="845" y="399" width="1" height="5"/><rect x="850" y="95" width="1" height="9"/><rect x="850" y="399" width="1" height="9"/><rect x="855" y="100" width="1" height="4"/><rect x="855" y="399" width="1" height="5"/><rect x="860" y="100" width="1" height="4"/><rect x="860" y="399" width="1" height="5"/><rect x="865" y="100" width="1" height="4"/><rect x="865" y="399" width="1" height="5"/><rect x="870" y="100" width="1" height="4"/><rect x="870" y="399" width="1" height="5"/><rect x="875" y="100" width="1" height="4"/><rect x="875" y="399" width="1" height="5"/><rect x="880" y="100" width="1" height="4"/><rect x="880" y="399" width="1" height="5"/><rect x="885" y="100" width="1" height="4"/><rect x="885" y="399" width="1" height="5"/><rect x="890" y="100" width="1" height="4"/><rect x="890" y="399" width="1" height="5"/><rect x="895" y="100" width="1" height="4"/><rect x="895" y="399" width="1" height="5"/><rect x="900" y="100" width="1" height="4"/><rect x="900" y="399" width="1" height="5"/><rect x="905" y="100" width="1" height="4"/><rect x="905" y="399" width="1" height="5"/><rect x="910" y="100" width="1" height="4"/><rect x="910" y="399" width="1" height="5"/><rect x="915" y="100" width="1" height="4"/><rect x="915" y="399" width="1" height="5"/><rect x="920" y="100" width="1" height="4"/><rect x="920" y="399" width="1" height="5"/><rect x="925" y="100" width="1" height="4"/><rect x="925" y="399" width="1" height="5"/><rect x="930" y="100" width="1" height="4"/><rect x="930" y="399" width="1" height="5"/><rect x="81" y="123" width="9" height="1"/><rect x="934" y="123" width="10" height="1"/><rect x="81" y="143" width="9" height="1"/><rect x="934" y="143" width="10" height="1"/><rect x="81" y="162" width="9" height="1"/><rect x="934" y="162" width="10" height="1"/><rect x="81" y="182" width="9" height="1"/><rect x="934" y="182" width="10" height="1"/><rect x="81" y="202" width="9" height="1"/><rect x="934" y="202" width="10" height="1"/><rect x="81" y="221" width="9" height="1"/><rect x="934" y="221" width="10" height="1"/><rect x="81" y="241" width="9" height="1"/><rect x="934" y="241" width="10" height="1"/><rect x="81" y="260" width="9" height="1"/><rect x="934" y="260" width="10" height="1"/><rect x="81" y="280" width="9" height="1"/><rect x="934" y="280" width="10" height="1"/><rect x="81" y="300" width="9" height="1"/><rect x="934" y="300" width="10" height="1"/><rect x="81" y="319" width="9" height="1"/><rect x="934" y="319" width="10" height="1"/><rect x="81" y="339" width="9" height="1"/><rect x="934" y="339" width="10" height="1"/><rect x="81" y="359" width="9" height="1"/><rect x="934" y="359" width="10" height="1"/><rect x="81" y="378" width="9" height="1"/><rect x="934" y="378" width="10" height="1"/></g>
<text x="61.8" y="127.4" font-size="11" textLength="13.0" lengthAdjust="spacing">20</text>
<text x="61.8" y="166.7" font-size="11" textLength="13.0" lengthAdjust="spacing">60</text>
<text x="55.0" y="206.0" font-size="11" textLength="19.8" lengthAdjust="spacing">100</text>
<text x="55.0" y="245.3" font-size="11" textLength="19.8" lengthAdjust="spacing">140</text>
<text x="55.0" y="284.5" font-size="11" textLength="19.8" lengthAdjust="spacing">180</text>
<text x="55.0" y="323.8" font-size="11" textLength="19.8" lengthAdjust="spacing">220</text>
<text x="55.0" y="363.1" font-size="11" textLength="19.8" lengthAdjust="spacing">260</text>
<text x="55.0" y="402.4" font-size="11" textLength="19.8" lengthAdjust="spacing">300</text>
<g transform="translate(44.8,251.7) rotate(-90)"><text x="-36.2" y="0" font-size="13" textLength="40.3" lengthAdjust="spacingAndGlyphs">DEPTH</text><text x="13" y="0" font-size="13" textLength="23.2" lengthAdjust="spacing">(m)</text></g>
<text x="94.2" y="418.8" font-size="11" textLength="12.6" lengthAdjust="spacing">18</text>
<text x="124.2" y="418.8" font-size="11" textLength="12.6" lengthAdjust="spacing">00</text>
<text x="154.2" y="418.8" font-size="11" textLength="12.6" lengthAdjust="spacing">06</text>
<text x="184.2" y="418.8" font-size="11" textLength="12.6" lengthAdjust="spacing">12</text>
<text x="214.2" y="418.8" font-size="11" textLength="12.6" lengthAdjust="spacing">18</text>
<text x="244.2" y="418.8" font-size="11" textLength="12.6" lengthAdjust="spacing">00</text>
<text x="274.2" y="418.8" font-size="11" textLength="12.6" lengthAdjust="spacing">06</text>
<text x="304.2" y="418.8" font-size="11" textLength="12.6" lengthAdjust="spacing">12</text>
<text x="334.2" y="418.8" font-size="11" textLength="12.6" lengthAdjust="spacing">18</text>
<text x="364.2" y="418.8" font-size="11" textLength="12.6" lengthAdjust="spacing">00</text>
<text x="394.2" y="418.8" font-size="11" textLength="12.6" lengthAdjust="spacing">06</text>
<text x="424.2" y="418.8" font-size="11" textLength="12.6" lengthAdjust="spacing">12</text>
<text x="454.2" y="418.8" font-size="11" textLength="12.6" lengthAdjust="spacing">18</text>
<text x="484.2" y="418.8" font-size="11" textLength="12.6" lengthAdjust="spacing">00</text>
<text x="514.2" y="418.8" font-size="11" textLength="12.6" lengthAdjust="spacing">06</text>
<text x="544.2" y="418.8" font-size="11" textLength="12.6" lengthAdjust="spacing">12</text>
<text x="574.2" y="418.8" font-size="11" textLength="12.6" lengthAdjust="spacing">18</text>
<text x="604.2" y="418.8" font-size="11" textLength="12.6" lengthAdjust="spacing">00</text>
<text x="634.2" y="418.8" font-size="11" textLength="12.6" lengthAdjust="spacing">06</text>
<text x="664.2" y="418.8" font-size="11" textLength="12.6" lengthAdjust="spacing">12</text>
<text x="694.2" y="418.8" font-size="11" textLength="12.6" lengthAdjust="spacing">18</text>
<text x="724.2" y="418.8" font-size="11" textLength="12.6" lengthAdjust="spacing">00</text>
<text x="754.2" y="418.8" font-size="11" textLength="12.6" lengthAdjust="spacing">06</text>
<text x="784.2" y="418.8" font-size="11" textLength="12.6" lengthAdjust="spacing">12</text>
<text x="814.2" y="418.8" font-size="11" textLength="12.6" lengthAdjust="spacing">18</text>
<text x="844.2" y="418.8" font-size="11" textLength="12.6" lengthAdjust="spacing">00</text>
<text x="874.2" y="418.8" font-size="11" textLength="12.6" lengthAdjust="spacing">06</text>
<text x="904.2" y="418.8" font-size="11" textLength="12.6" lengthAdjust="spacing">12</text>
<text x="79.0" y="438.4" font-size="16" textLength="30.4" lengthAdjust="spacingAndGlyphs">MAY</text>
<text x="137.5" y="438.4" font-size="16" text-anchor="end">1</text>
<text x="155.8" y="438.4" font-size="16" textLength="30.4" lengthAdjust="spacingAndGlyphs">MAY</text>
<text x="214.3" y="438.4" font-size="16" text-anchor="end">2</text>
<text x="275.8" y="438.4" font-size="16" textLength="30.4" lengthAdjust="spacingAndGlyphs">MAY</text>
<text x="334.3" y="438.4" font-size="16" text-anchor="end">3</text>
<text x="395.8" y="438.4" font-size="16" textLength="30.4" lengthAdjust="spacingAndGlyphs">MAY</text>
<text x="454.3" y="438.4" font-size="16" text-anchor="end">4</text>
<text x="515.8" y="438.4" font-size="16" textLength="30.4" lengthAdjust="spacingAndGlyphs">MAY</text>
<text x="574.3" y="438.4" font-size="16" text-anchor="end">5</text>
<text x="635.8" y="438.4" font-size="16" textLength="30.4" lengthAdjust="spacingAndGlyphs">MAY</text>
<text x="694.3" y="438.4" font-size="16" text-anchor="end">6</text>
<text x="755.8" y="438.4" font-size="16" textLength="30.4" lengthAdjust="spacingAndGlyphs">MAY</text>
<text x="814.3" y="438.4" font-size="16" text-anchor="end">7</text>
<text x="857.6" y="438.4" font-size="16" textLength="30.4" lengthAdjust="spacingAndGlyphs">MAY</text>
<text x="916.1" y="438.4" font-size="16" text-anchor="end">8</text>
<text x="90.4" y="34.9" font-size="12.4" textLength="60.2" lengthAdjust="spacingAndGlyphs">LONGITUDE</text>
<text x="157.4" y="34.9" font-size="12.4">:</text>
<text x="168.5" y="34.9" font-size="12.4" textLength="70.1" lengthAdjust="spacing">122W(-122)</text>
<text x="90.4" y="46.9" font-size="11.2" textLength="49.0" lengthAdjust="spacingAndGlyphs">LATITUDE</text>
<text x="146.4" y="46.9" font-size="11.2">:</text>
<text x="155.6" y="46.9" font-size="11.2" textLength="33.4" lengthAdjust="spacing">36.8N</text>
<text x="90.4" y="59.9" font-size="11.2" textLength="28.0" lengthAdjust="spacingAndGlyphs">YEAR</text>
<text x="124.9" y="59.9" font-size="11.2">:</text>
<text x="134.5" y="59.9" font-size="11.2" textLength="27.8" lengthAdjust="spacing">2012</text>
<text x="225.9" y="80.9" font-size="13.2" textLength="40.8" lengthAdjust="spacing">Hourly</text>
<text x="273.5" y="80.9" font-size="13.2" textLength="49.7" lengthAdjust="spacing">Gridded</text>
<text x="331.5" y="80.9" font-size="13.2" textLength="38.1" lengthAdjust="spacingAndGlyphs">MBARI</text>
<text x="377.6" y="80.9" font-size="13.2" textLength="50.5" lengthAdjust="spacing">Mooring</text>
<text x="436.5" y="80.9" font-size="13.2" textLength="18.4" lengthAdjust="spacingAndGlyphs">M1</text>
<text x="463.2" y="80.9" font-size="13.2" textLength="22.3" lengthAdjust="spacingAndGlyphs">Sea</text>
<text x="494.2" y="80.9" font-size="13.2" textLength="36.1" lengthAdjust="spacing">Water</text>
<text x="537.1" y="80.9" font-size="13.2" textLength="83.3" lengthAdjust="spacing">Temperature</text>
<text x="629.3" y="80.9" font-size="13.2" textLength="22.9" lengthAdjust="spacing">and</text>
<text x="659.6" y="80.9" font-size="13.2" textLength="46.7" lengthAdjust="spacing">Salinity</text>
<text x="714.0" y="80.9" font-size="13.2" textLength="83.9" lengthAdjust="spacing">Observations</text>
<text x="309.4" y="477.0" font-size="25.5" textLength="38.7" lengthAdjust="spacingAndGlyphs" class="t">Sea</text>
<text x="363.1" y="477.0" font-size="25.5" textLength="64.7" lengthAdjust="spacingAndGlyphs" class="t">Water</text>
<text x="442.7" y="477.0" font-size="25.5" textLength="153.4" lengthAdjust="spacingAndGlyphs" class="t">Temperature</text>
<text x="613.2" y="477.0" font-size="25.5" textLength="100.1" lengthAdjust="spacingAndGlyphs" class="t">(Celsius)</text>
<g shape-rendering="crispEdges"><rect x="949" y="386.15" width="22" height="12.75" fill="#cc00ff"/><rect x="949" y="373.90" width="22" height="12.75" fill="#9416ff"/><rect x="949" y="361.65" width="22" height="12.75" fill="#5c2bff"/><rect x="949" y="349.40" width="22" height="12.75" fill="#4043e2"/><rect x="949" y="337.15" width="22" height="12.75" fill="#3255c2"/><rect x="949" y="324.90" width="22" height="12.75" fill="#2568a2"/><rect x="949" y="312.65" width="22" height="12.75" fill="#177a82"/><rect x="949" y="300.40" width="22" height="12.75" fill="#098c62"/><rect x="949" y="288.15" width="22" height="12.75" fill="#0e9e48"/><rect x="949" y="275.90" width="22" height="12.75" fill="#30ac3e"/><rect x="949" y="263.65" width="22" height="12.75" fill="#53ba33"/><rect x="949" y="251.40" width="22" height="12.75" fill="#75c829"/><rect x="949" y="239.15" width="22" height="12.75" fill="#98d51f"/><rect x="949" y="226.90" width="22" height="12.75" fill="#bae315"/><rect x="949" y="214.65" width="22" height="12.75" fill="#ddf10a"/><rect x="949" y="202.40" width="22" height="12.75" fill="#ffff00"/><rect x="949" y="190.15" width="22" height="12.75" fill="#ffd400"/><rect x="949" y="177.90" width="22" height="12.75" fill="#ffaa00"/><rect x="949" y="165.65" width="22" height="12.75" fill="#ff8000"/><rect x="949" y="153.40" width="22" height="12.75" fill="#ff5500"/><rect x="949" y="141.15" width="22" height="12.75" fill="#ff2a00"/><rect x="949" y="128.90" width="22" height="12.75" fill="#ff0000"/><rect x="949" y="116.65" width="22" height="12.75" fill="#cc0000"/><rect x="949" y="104.40" width="22" height="12.75" fill="#990000"/><g fill="#000"><rect x="948" y="398" width="23" height="1"/><rect x="948" y="386" width="23" height="1"/><rect x="948" y="374" width="23" height="1"/><rect x="948" y="362" width="23" height="1"/><rect x="948" y="349" width="23" height="1"/><rect x="948" y="337" width="23" height="1"/><rect x="948" y="325" width="23" height="1"/><rect x="948" y="313" width="23" height="1"/><rect x="948" y="300" width="23" height="1"/><rect x="948" y="288" width="23" height="1"/><rect x="948" y="276" width="23" height="1"/><rect x="948" y="264" width="23" height="1"/><rect x="948" y="251" width="23" height="1"/><rect x="948" y="239" width="23" height="1"/><rect x="948" y="227" width="23" height="1"/><rect x="948" y="215" width="23" height="1"/><rect x="948" y="202" width="23" height="1"/><rect x="948" y="190" width="23" height="1"/><rect x="948" y="178" width="23" height="1"/><rect x="948" y="166" width="23" height="1"/><rect x="948" y="153" width="23" height="1"/><rect x="948" y="141" width="23" height="1"/><rect x="948" y="129" width="23" height="1"/><rect x="948" y="117" width="23" height="1"/><rect x="948" y="104" width="23" height="1"/><rect x="948" y="104" width="1" height="295"/><rect x="970" y="104" width="1" height="295"/></g></g>
<text x="975.3" y="402.9" font-size="11" textLength="16.4" lengthAdjust="spacing">7.2</text>
<text x="975.3" y="390.6" font-size="11" textLength="16.4" lengthAdjust="spacing">7.4</text>
<text x="975.3" y="378.4" font-size="11" textLength="16.4" lengthAdjust="spacing">7.6</text>
<text x="975.3" y="366.1" font-size="11" textLength="16.4" lengthAdjust="spacing">7.8</text>
<text x="975.3" y="353.9" font-size="11" textLength="6.5" lengthAdjust="spacing">8</text>
<text x="975.3" y="341.6" font-size="11" textLength="16.4" lengthAdjust="spacing">8.2</text>
<text x="975.3" y="329.4" font-size="11" textLength="16.4" lengthAdjust="spacing">8.4</text>
<text x="975.3" y="317.1" font-size="11" textLength="16.4" lengthAdjust="spacing">8.6</text>
<text x="975.3" y="304.9" font-size="11" textLength="16.4" lengthAdjust="spacing">8.8</text>
<text x="975.3" y="292.6" font-size="11" textLength="6.5" lengthAdjust="spacing">9</text>
<text x="975.3" y="280.4" font-size="11" textLength="16.4" lengthAdjust="spacing">9.2</text>
<text x="975.3" y="268.1" font-size="11" textLength="16.4" lengthAdjust="spacing">9.4</text>
<text x="975.3" y="255.9" font-size="11" textLength="16.4" lengthAdjust="spacing">9.6</text>
<text x="975.3" y="243.6" font-size="11" textLength="16.4" lengthAdjust="spacing">9.8</text>
<text x="975.3" y="231.4" font-size="11" textLength="13.3" lengthAdjust="spacing">10</text>
<text x="975.3" y="219.1" font-size="11" textLength="23.2" lengthAdjust="spacing">10.2</text>
<text x="975.3" y="206.9" font-size="11" textLength="23.2" lengthAdjust="spacing">10.4</text>
<text x="975.3" y="194.6" font-size="11" textLength="23.2" lengthAdjust="spacing">10.6</text>
<text x="975.3" y="182.4" font-size="11" textLength="23.2" lengthAdjust="spacing">10.8</text>
<text x="975.3" y="170.1" font-size="11" textLength="13.3" lengthAdjust="spacing">11</text>
<text x="975.3" y="157.9" font-size="11" textLength="23.2" lengthAdjust="spacing">11.2</text>
<text x="975.3" y="145.6" font-size="11" textLength="23.2" lengthAdjust="spacing">11.4</text>
<text x="975.3" y="133.4" font-size="11" textLength="23.2" lengthAdjust="spacing">11.6</text>
<text x="975.3" y="121.1" font-size="11" textLength="23.2" lengthAdjust="spacing">11.8</text>
<text x="975.3" y="108.9" font-size="11" textLength="13.3" lengthAdjust="spacing">12</text>
</svg></body></html>
